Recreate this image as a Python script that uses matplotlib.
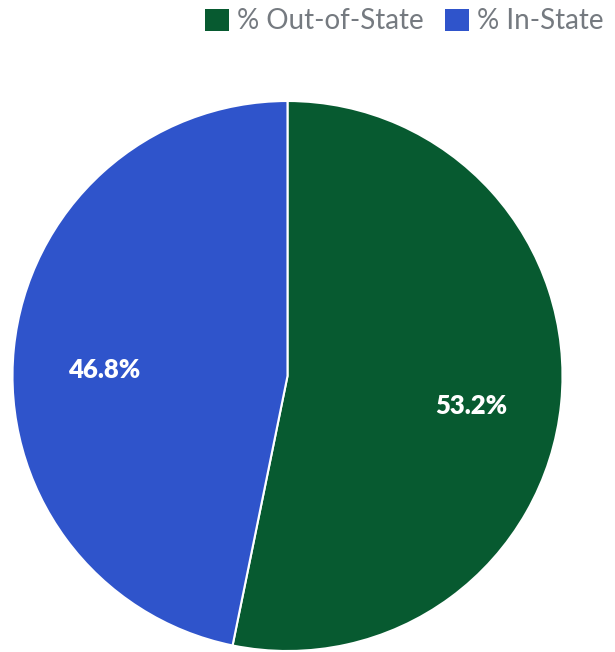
import matplotlib
matplotlib.use("Agg")
import matplotlib.pyplot as plt
from matplotlib.patches import Patch

categories = ["% Out-of-State", "% In-State"]
values = [53.2, 46.8]
colors = ["#075a30", "#2f54cb"]

W, H = 615, 652
fig = plt.figure(figsize=(W / 100, H / 100), dpi=100)
ax = fig.add_axes([0, 0, 1, 1])

wedges, texts, autotexts = ax.pie(
    values,
    colors=colors,
    startangle=90,
    counterclock=False,
    center=(287.5, H - 376),
    radius=275,
    autopct=lambda p: f"{p:.1f}%",
    pctdistance=0.67,
    wedgeprops=dict(edgecolor="white", linewidth=1.5),
    textprops=dict(color="white", fontsize=18.5, fontweight="heavy",
                   family=["Lato", "DejaVu Sans"]),
    frame=True,
)
for t in autotexts:
    t.set_va("top")

ax.set_xlim(0, W)
ax.set_ylim(0, H)
ax.set_aspect("equal")
ax.axis("off")

handles = [Patch(facecolor=c, edgecolor="none") for c in colors]
leg = fig.legend(
    handles, categories,
    loc="upper right", bbox_to_anchor=(0.995, 1.0),
    ncol=2, frameon=False,
    prop=dict(family=["Lato", "DejaVu Sans"], size=20),
    labelcolor="#757a80",
    handlelength=0.85, handleheight=0.85,
    handletextpad=0.3, columnspacing=0.75,
    borderaxespad=0.0, borderpad=0.3,
)

fig.savefig("out.png", dpi=100)
